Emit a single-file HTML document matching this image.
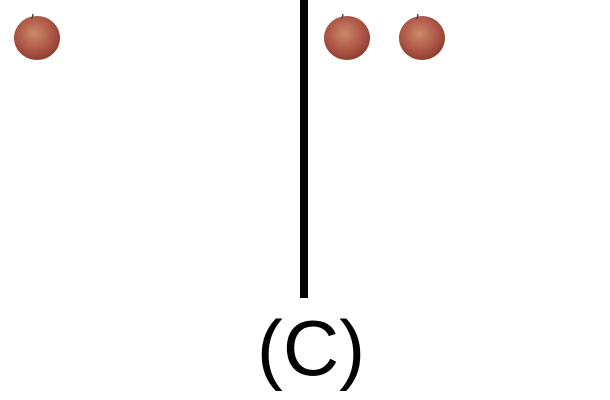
<!DOCTYPE html>
<html><head><meta charset="utf-8"><style>
html,body{margin:0;padding:0;background:#fff;}
svg{display:block;}
</style></head><body>
<svg width="610" height="400" viewBox="0 0 610 400">
<defs>
<radialGradient id="ag" cx="0.45" cy="0.4" r="0.6">
<stop offset="0" stop-color="#c98a68"/>
<stop offset="0.6" stop-color="#b0594a"/>
<stop offset="1" stop-color="#8e3e30"/>
</radialGradient>
</defs>
<g id="apples"></g>
<rect x="300" y="0" width="8" height="298" fill="#000"/>
<text x="311" y="375" text-anchor="middle" font-family="Liberation Sans, sans-serif" font-size="78" fill="#000">(C)</text>
</svg>
<script>
const appleXs=[37,347,422];
const g=document.getElementById('apples');
const ns='http://www.w3.org/2000/svg';
appleXs.forEach((x,i)=>{
const gr=document.createElementNS(ns,'g');


const e=document.createElementNS(ns,'ellipse');
e.setAttribute('cx',x);e.setAttribute('cy',38);e.setAttribute('rx',23);e.setAttribute('ry',22);
e.setAttribute('fill','url(#ag)');
gr.appendChild(e);
const s=document.createElementNS(ns,'line');
s.setAttribute('x1',x-5);s.setAttribute('y1',19);s.setAttribute('x2',x-4);s.setAttribute('y2',14);
s.setAttribute('stroke','#5a4a30');s.setAttribute('stroke-width','1.5');
gr.appendChild(s);
g.appendChild(gr);
});
</script>
</body></html>
